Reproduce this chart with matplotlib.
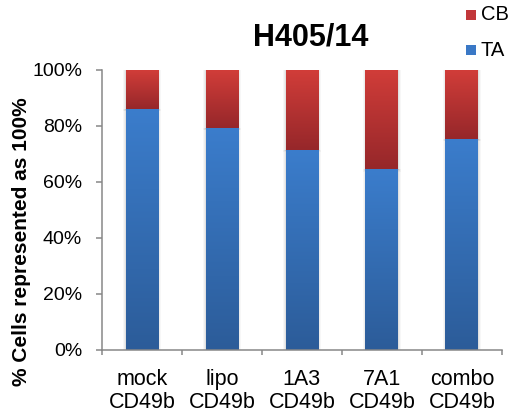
import numpy as np
import matplotlib
matplotlib.use("Agg")
import matplotlib.pyplot as plt
from matplotlib.patches import Rectangle
from matplotlib.colors import LinearSegmentedColormap

plt.rcParams['font.family'] = ['Liberation Sans', 'DejaVu Sans']

categories = ["mock\nCD49b", "lipo\nCD49b", "1A3\nCD49b", "7A1\nCD49b", "combo\nCD49b"]
ta_values = [86.1, 79.3, 71.5, 64.6, 75.4]
cb_values = [100 - v for v in ta_values]
series_names = ["CB", "TA"]
yticks = [0, 20, 40, 60, 80, 100]

blue_cmap = LinearSegmentedColormap.from_list("blue", ["#2c5c99", "#3b7dcc"])
red_cmap = LinearSegmentedColormap.from_list("red", ["#96272a", "#d13d39"])

fig = plt.figure(figsize=(5.10, 4.17), dpi=100)
ax = fig.add_axes([0.2, 0.1607, 0.784, 0.6715])

width = 0.41
grad = np.linspace(0, 1, 256).reshape(-1, 1)


def gradient_bar(x, bottom, height, cmap):
    # soft drop shadow behind the bar
    for k, a in enumerate([0.05, 0.04, 0.03]):
        pad = 0.012 * (k + 1)
        ax.add_patch(Rectangle((x - width / 2 - pad, bottom - 0.3 * (k + 1)),
                               width + 2 * pad, height + 0.3 * (k + 1),
                               facecolor="black", alpha=a, edgecolor="none", zorder=1))
    rect = Rectangle((x - width / 2, bottom), width, height,
                     facecolor="none", edgecolor="none", zorder=3)
    ax.add_patch(rect)
    im = ax.imshow(grad, cmap=cmap, origin="lower", aspect="auto",
                   extent=[x - width / 2, x + width / 2, bottom, bottom + height],
                   zorder=2, interpolation="bilinear")
    im.set_clip_path(rect)


xs = np.arange(len(categories))
for x, ta, cb in zip(xs, ta_values, cb_values):
    gradient_bar(x, 0, ta, blue_cmap)
    gradient_bar(x, ta, cb, red_cmap)

ax.set_xlim(-0.5, len(categories) - 0.5)
ax.set_ylim(0, 100)

axis_grey = "#878787"
ax.set_yticks(yticks)
ax.set_yticklabels([f"{t}%" for t in yticks], fontsize=14)
ax.set_xticks(np.arange(len(categories) + 1) - 0.5)
ax.set_xticklabels([])
ax.set_xticks(xs, minor=True)
ax.set_xticklabels(categories, minor=True, fontsize=15.5, linespacing=1.1)
ax.tick_params(axis="x", which="minor", length=0, pad=14)
ax.tick_params(axis="x", which="major", length=3.8, color=axis_grey, width=1.1)
ax.tick_params(axis="y", length=4.3, color=axis_grey, width=1.1, pad=10)

for side in ["top", "right"]:
    ax.spines[side].set_visible(False)
for side in ["left", "bottom"]:
    ax.spines[side].set_color(axis_grey)
    ax.spines[side].set_linewidth(1.1)

fig.text(22 / 510, 1 - 242 / 417, "% Cells represented as 100%", fontsize=15,
         fontweight="bold", rotation=90, ha="center", va="center")
fig.text(0.610, 0.910, "H405/14", fontsize=22, fontweight="bold", ha="center", va="center")

# legend
legend_colors = ["#c2373a", "#3a78c6"]
legend_y = [1 - 15 / 417, 1 - 50 / 417]
for name, col, y in zip(series_names, legend_colors, legend_y):
    fig.patches.append(Rectangle((466 / 510, y - 5 / 417), 10 / 510, 10 / 417,
                                 transform=fig.transFigure, facecolor=col,
                                 edgecolor="none"))
    fig.text(481 / 510, y, name, fontsize=14.5, va="center", ha="left")

fig.savefig("out.png", dpi=100)
